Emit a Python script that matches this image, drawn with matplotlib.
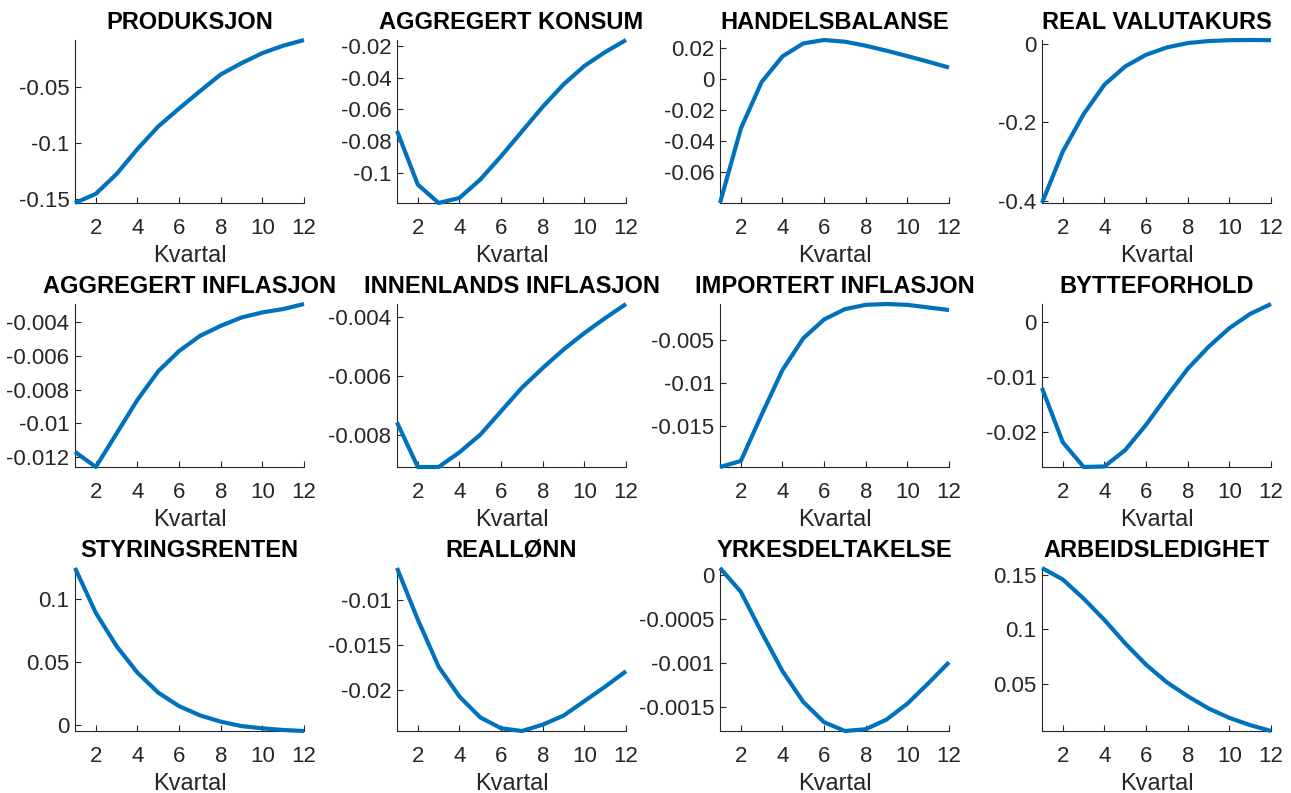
import matplotlib
matplotlib.use("Agg")
import matplotlib.pyplot as plt
from matplotlib.ticker import MultipleLocator, FuncFormatter, FixedLocator

plt.rcParams["font.family"] = ["Liberation Sans", "DejaVu Sans"]
plt.rcParams["axes.unicode_minus"] = False

quarters = list(range(1, 13))

produksjon = [-0.154, -0.1458, -0.128, -0.1057, -0.0855, -0.0695, -0.054, -0.039,
              -0.0289, -0.0199, -0.0133, -0.0082]
aggregert_konsum = [-0.0735, -0.1074, -0.119, -0.1158, -0.1042, -0.0895, -0.0739,
                    -0.0583, -0.0442, -0.0326, -0.0238, -0.0162]
handelsbalanse = [-0.0798, -0.0318, -0.0017, 0.0148, 0.0232, 0.0254, 0.0243, 0.0217,
                  0.0185, 0.015, 0.0114, 0.0076]
real_valutakurs = [-0.405, -0.274, -0.179, -0.104, -0.0576, -0.028, -0.0094, 0.0017,
                   0.0068, 0.009, 0.0095, 0.009]
aggregert_inflasjon = [-0.0117, -0.0126, -0.0106, -0.0086, -0.0069, -0.0057, -0.0048,
                       -0.0042, -0.0037, -0.0034, -0.0032, -0.0029]
innenlands_inflasjon = [-0.00758, -0.0091, -0.0091, -0.0086, -0.008, -0.0072, -0.0064,
                        -0.00573, -0.0051, -0.00454, -0.00403, -0.00355]
importert_inflasjon = [-0.0198, -0.0191, -0.0137, -0.0085, -0.0048, -0.0026, -0.0014,
                       -0.0009, -0.0008, -0.0009, -0.0012, -0.0015]
bytteforhold = [-0.012, -0.0219, -0.0264, -0.0263, -0.0233, -0.0187, -0.0135, -0.0085,
                -0.0045, -0.0011, 0.0015, 0.0033]
styringsrenten = [0.1245, 0.0889, 0.0625, 0.0415, 0.0257, 0.015, 0.0077, 0.0027,
                  -0.0008, -0.0026, -0.0039, -0.0047]
realloenn = [-0.0065, -0.0122, -0.0174, -0.0207, -0.023, -0.0242, -0.0245, -0.0238,
             -0.0228, -0.0212, -0.0196, -0.0179]
yrkesdeltakelse = [0.00008, -0.00019, -0.00065, -0.00109, -0.00144, -0.00167, -0.00177,
                   -0.00175, -0.00164, -0.00146, -0.00123, -0.00099]
arbeidsledighet = [0.156, 0.1455, 0.128, 0.1085, 0.087, 0.0676, 0.0515, 0.0388,
                   0.0276, 0.019, 0.0124, 0.007]

titles = ["PRODUKSJON", "AGGREGERT KONSUM", "HANDELSBALANSE", "REAL VALUTAKURS",
          "AGGREGERT INFLASJON", "INNENLANDS INFLASJON", "IMPORTERT INFLASJON", "BYTTEFORHOLD",
          "STYRINGSRENTEN", "REALLØNN", "YRKESDELTAKELSE", "ARBEIDSLEDIGHET"]
series = [produksjon, aggregert_konsum, handelsbalanse, real_valutakurs,
          aggregert_inflasjon, innenlands_inflasjon, importert_inflasjon, bytteforhold,
          styringsrenten, realloenn, yrkesdeltakelse, arbeidsledighet]
ytick_steps = [0.05, 0.02, 0.02, 0.2,
               0.002, 0.002, 0.005, 0.01,
               0.05, 0.005, 0.0005, 0.05]
xticks = [2, 4, 6, 8, 10, 12]

W, H = 1291, 793
fig = plt.figure(figsize=(W / 100, H / 100), dpi=100)

col_left = [75, 397, 720, 1042]
row_top = [40, 304, 568]
ax_w, ax_h = 229, 163
dark = "#262626"
line_color = "#0072BD"


def fmt(v, pos):
    v = round(v, 10)
    if v == 0:
        return "0"
    return f"{v:g}"


for i, (title, y, step) in enumerate(zip(titles, series, ytick_steps)):
    r, c = divmod(i, 4)
    left = col_left[c] / W
    bottom = 1 - (row_top[r] + ax_h) / H
    ax = fig.add_axes([left, bottom, ax_w / W, ax_h / H])
    ax.plot(quarters, y, color=line_color, linewidth=3.0, solid_capstyle="butt",
            clip_on=False, zorder=3)
    ax.set_xlim(1, 12)
    ax.set_ylim(min(y), max(y))
    ax.xaxis.set_major_locator(FixedLocator(xticks))
    ax.yaxis.set_major_locator(MultipleLocator(step))
    ax.yaxis.set_major_formatter(FuncFormatter(fmt))
    for side in ("top", "right"):
        ax.spines[side].set_visible(False)
    for side in ("left", "bottom"):
        ax.spines[side].set_color(dark)
        ax.spines[side].set_linewidth(0.8)
    ax.tick_params(direction="in", length=4, width=0.8, colors=dark,
                   labelsize=16, labelcolor=dark)
    ax.tick_params(axis="x", pad=11)
    ax.tick_params(axis="y", pad=4)
    ax.set_xlabel("Kvartal", fontsize=17, color=dark, labelpad=4)
    ax.set_title(title, fontsize=17, fontweight="bold", color="black", pad=8)

fig.savefig("out.png", dpi=100)
